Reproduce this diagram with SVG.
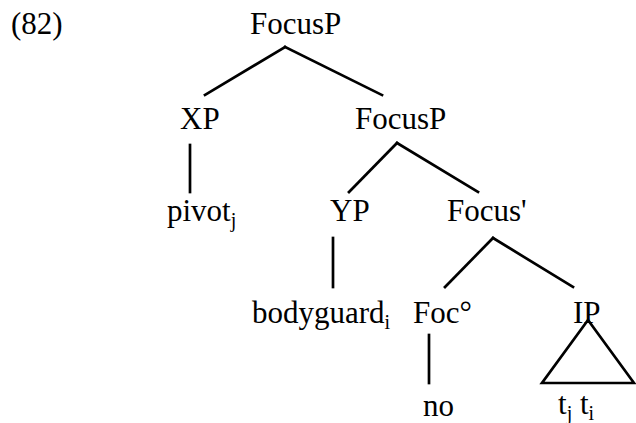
<svg xmlns="http://www.w3.org/2000/svg" width="636" height="423" viewBox="0 0 636 423">
<style>
text{font-family:"Liberation Serif","Times New Roman",serif;font-size:31px;fill:#000}
.sub{font-size:20px}
line,polygon{stroke:#000;stroke-width:2.7;fill:none;stroke-linecap:square}
</style>
<rect width="636" height="423" fill="#fff"/>
<text x="11" y="34">(82)</text>
<g id="n_focusP1"><text x="250" y="34">FocusP</text></g>
<g id="n_xp"><text x="180" y="129">XP</text></g>
<g id="n_focusP2"><text x="355" y="129">FocusP</text></g>
<g id="n_pivot"><text x="167" y="221">pivot<tspan class="sub" dy="6">j</tspan></text></g>
<g id="n_yp"><text x="330" y="221">YP</text></g>
<g id="n_focusbar"><text x="447" y="221">Focus'</text></g>
<g id="n_bodyguard"><text x="252" y="323">bodyguard<tspan class="sub" dy="6">i</tspan></text></g>
<g id="n_foc"><text x="413" y="323">Foc°</text></g>
<g id="n_ip"><text x="573" y="323">IP</text></g>
<g id="n_no"><text x="423" y="416">no</text></g>
<g id="n_tt"><text x="558" y="414">t<tspan class="sub" dy="6">j</tspan><tspan dy="-6"> t</tspan><tspan class="sub" dy="6">i</tspan></text></g>
<g id="connectors">
<line x1="285" y1="47" x2="205" y2="95"/>
<line x1="285" y1="47" x2="382" y2="95"/>
<line x1="190" y1="145" x2="190" y2="192"/>
<line x1="397" y1="143" x2="349" y2="192"/>
<line x1="397" y1="143" x2="478" y2="192"/>
<line x1="333" y1="238" x2="333" y2="287"/>
<line x1="493" y1="238" x2="445" y2="287"/>
<line x1="493" y1="238" x2="573" y2="287"/>
<line x1="429" y1="335" x2="429" y2="383"/>
<polygon points="588,320 542,383 634,383"/>
</g>
</svg>
